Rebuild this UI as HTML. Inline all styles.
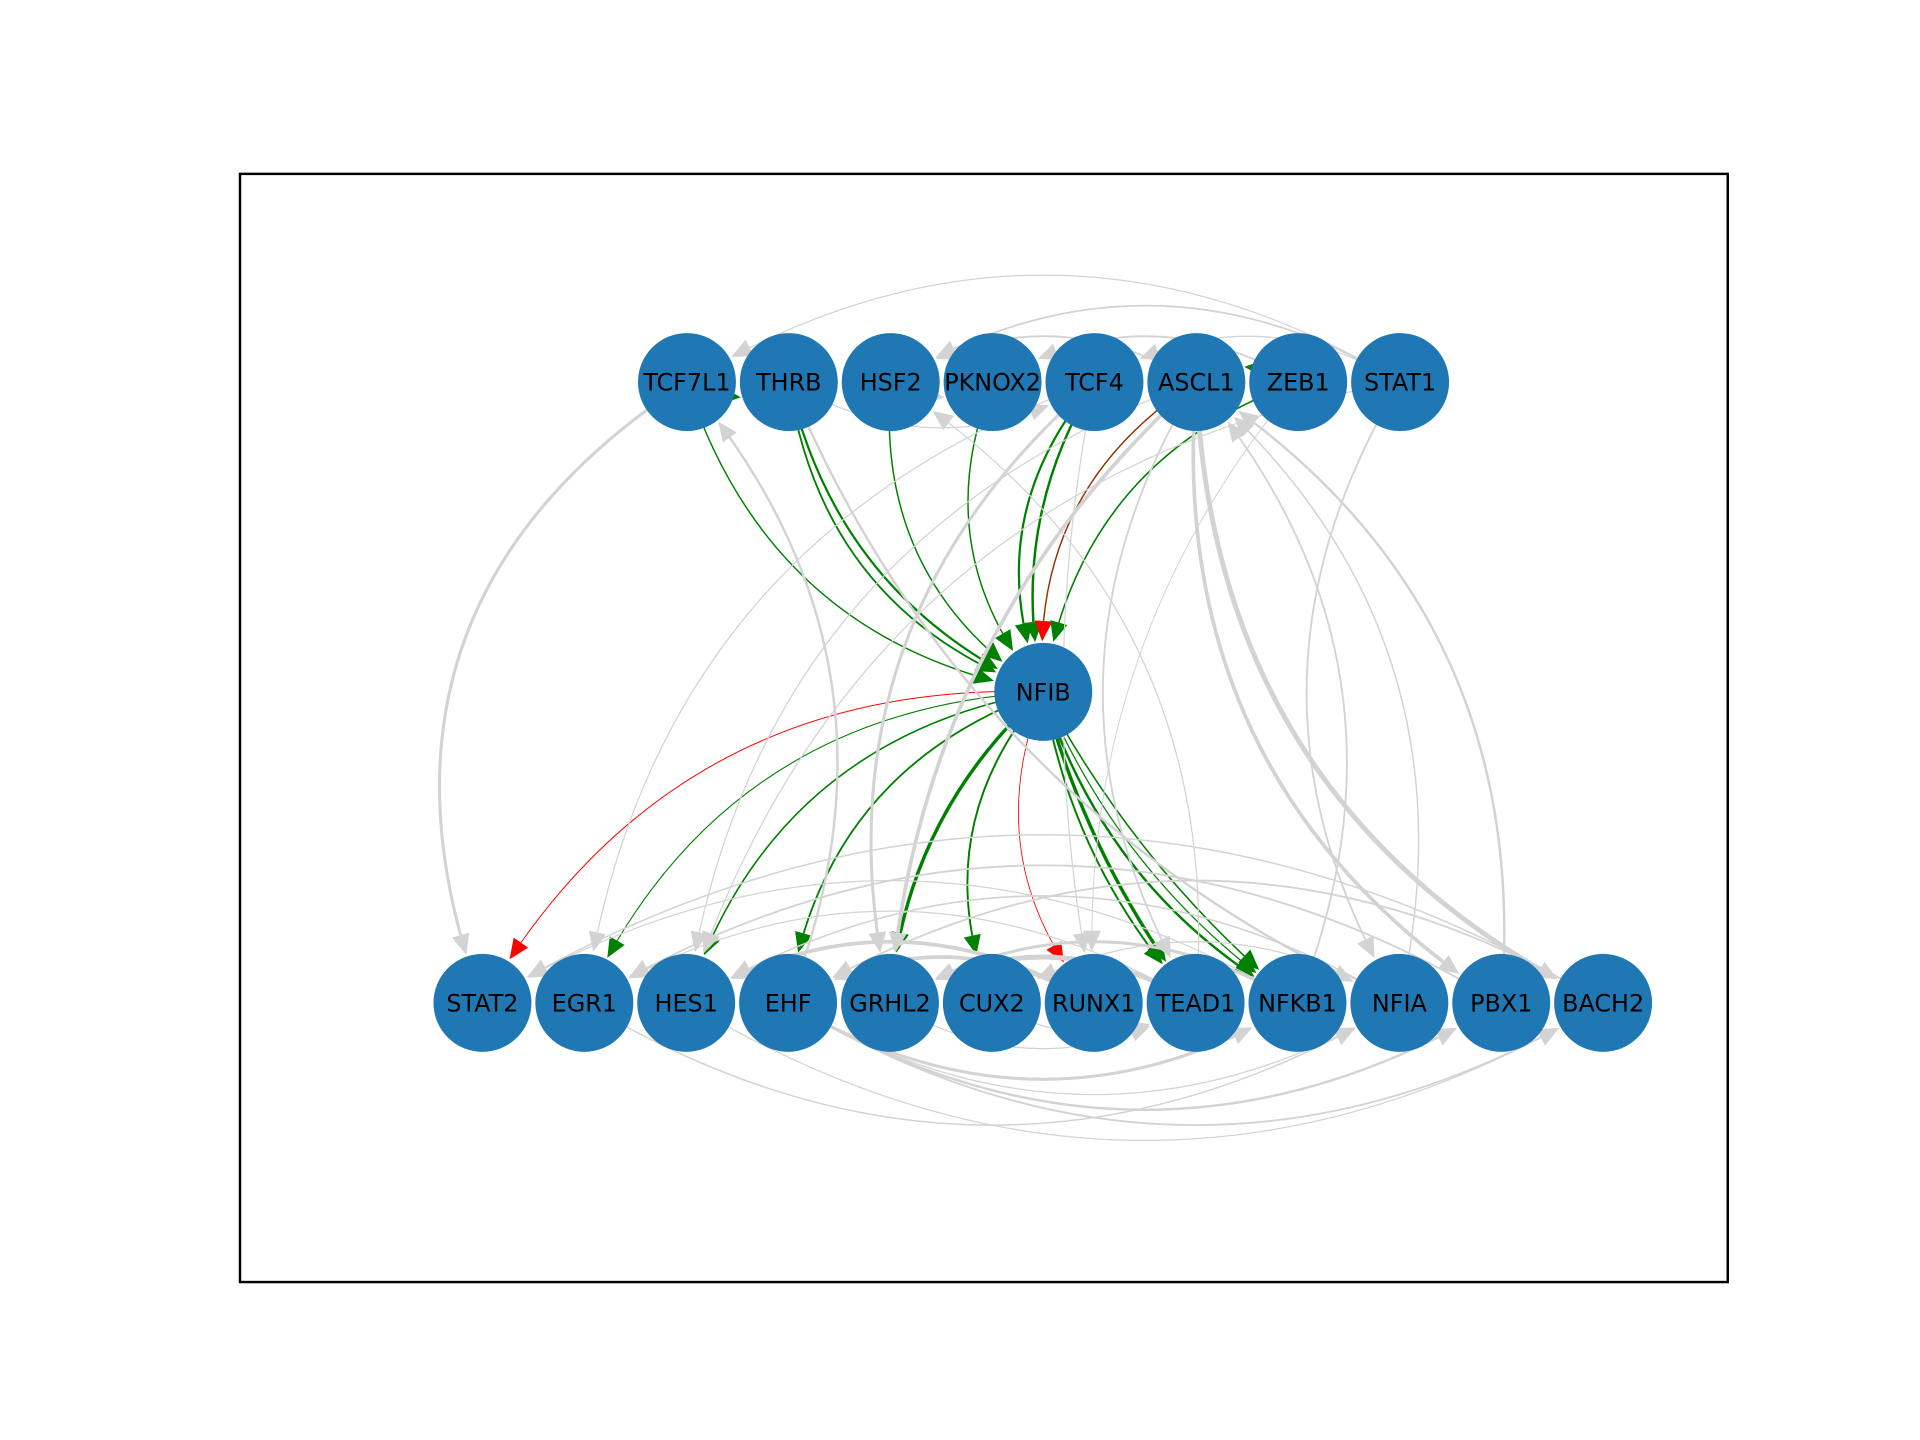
<!DOCTYPE html>
<html><head><meta charset="utf-8"><style>
html,body{margin:0;padding:0;background:#fff;}
svg{display:block;}
text{font-family:"DejaVu Sans","Liberation Sans",sans-serif;}
</style></head><body>
<svg id="chart" width="1920" height="1440" viewBox="0 0 1920 1440" xmlns="http://www.w3.org/2000/svg">
<g id="root" transform="scale(1.2245)">
<rect x="196" y="142" width="1215" height="905" fill="none" stroke="#000" stroke-width="2"/>
<g id="edges"></g><g id="nodes"></g>
</g>
</svg>
<script>
const topNodes=["TCF7L1","THRB","HSF2","PKNOX2","TCF4","ASCL1","ZEB1","STAT1"];
const botNodes=["STAT2","EGR1","HES1","EHF","GRHL2","CUX2","RUNX1","TEAD1","NFKB1","NFIA","PBX1","BACH2"];
const hubNode="NFIB";
const edgeSrc=["TCF7L1","THRB","THRB","HSF2","PKNOX2","TCF4","TCF4","ASCL1","ASCL1","ZEB1","NFIB","NFIB","NFIB","NFIB","NFIB","NFIB","NFIB","NFIB","NFIB","NFIB","NFIB","NFIB",
"TCF7L1","STAT1","ASCL1","STAT1","ZEB1","STAT1","THRB","EHF","NFIA","ASCL1","NFKB1","PBX1","TEAD1","ASCL1","TCF4","STAT1","THRB","ASCL1","ASCL1","TCF4","STAT1","HSF2","RUNX1","RUNX1","TEAD1","NFKB1","NFIA","PBX1","BACH2","NFIA","BACH2","EGR1","EHF","EHF","EHF","GRHL2","CUX2","HES1","EHF","TCF4","ZEB1","TCF7L1","ASCL1","ZEB1","NFKB1","TEAD1"];
const edgeTgt=["NFIB","NFIB","NFIB","NFIB","NFIB","NFIB","NFIB","NFIB","NFIB","NFIB","STAT2","EGR1","HES1","EHF","GRHL2","CUX2","RUNX1","TEAD1","NFKB1","NFKB1","NFKB1","TEAD1",
"STAT2","TCF7L1","HSF2","HSF2","PKNOX2","TCF4","TCF4","TCF7L1","ASCL1","BACH2","ASCL1","ASCL1","HSF2","GRHL2","GRHL2","NFIA","NFIA","TEAD1","HES1","RUNX1","HES1","PKNOX2","HES1","EHF","GRHL2","GRHL2","HES1","EGR1","STAT2","CUX2","EHF","NFIA","PBX1","BACH2","NFKB1","TEAD1","TEAD1","BACH2","NFIA","EGR1","RUNX1","THRB","PBX1","ASCL1","STAT2","EGR1"];
const edgeCol=["g","g","g","g","g","g","g","g","r","g","r","g","g","g","g","g","r","g","g","g","g","g",
"k","k","k","k","k","k","k","k","k","k","k","k","k","k","k","k","k","k","k","k","k","k","k","k","k","k","k","k","k","k","k","k","k","k","k","k","k","k","k","k","k","g","k","g","k","k"];
const edgeW=[1.2,1.5,1.8,1.2,1.2,1.8,2,1.2,0.7,1.3,0.8,0.9,1.3,1.5,2.8,1.6,0.7,2.8,1.3,1,2,1.6,
2.5,1,1.5,1.5,1.5,1,1,2,1.2,4,1.5,2,1,3,2.5,1.5,2,1.5,1,1,1,1,3,3,4,2.5,1.3,1.5,1.2,1,1.5,1.2,2,1.5,2.5,1,1,1,1,1,0.8,1.5,3,1.3,1,1];
const edgeRad=[0.3,0.3,0.25,0.3,0.3,0.3,0.2,0.3,0.3,0.3,0.3,0.3,0.3,0.3,0.2,0.3,0.3,0.1,0.1,0.15,0.2,0.15,
0.4,0.3,0.3,0.3,0.3,0.3,0.3,0.3,0.3,0.3,0.3,0.3,0.3,0.2,0.3,0.3,0.2,0.3,0.3,0.1,0.3,0.3,0.3,0.3,0.3,0.3,0.3,0.3,0.3,0.3,0.3,0.3,0.3,0.3,0.3,0.3,0.3,0.3,0.3,0.3,0.2,0.3,0.3,0.3,0.3,0.3];
const colors={g:"green",r:"red",k:"lightgray"};
const R=40, step=83.2;
const pos={};
topNodes.forEach((n,i)=>pos[n]=[561+i*step,312]);
botNodes.forEach((n,i)=>pos[n]=[394+i*step,819]);
pos[hubNode]=[852,565];
const NS="http://www.w3.org/2000/svg";
const eg=document.getElementById("edges"), ng=document.getElementById("nodes");
function bez(p0,c,p1,t){const u=1-t;return [u*u*p0[0]+2*u*t*c[0]+t*t*p1[0],u*u*p0[1]+2*u*t*c[1]+t*t*p1[1]];}
edgeSrc.forEach((s,i)=>{
  const p0=pos[s],p1=pos[edgeTgt[i]];
  const dx=p1[0]-p0[0],dy=p1[1]-p0[1],r=edgeRad[i];
  const c=[(p0[0]+p1[0])/2-r*dy,(p0[1]+p1[1])/2+r*dx];
  let t=1;
  for(;t>0;t-=0.002){const q=bez(p0,c,p1,t);if(Math.hypot(q[0]-p1[0],q[1]-p1[1])>=R+1)break;}
  const tip=bez(p0,c,p1,t);
  const AL=16;
  let t2=t;for(;t2>0;t2-=0.002){const q=bez(p0,c,p1,t2);if(Math.hypot(q[0]-tip[0],q[1]-tip[1])>=AL)break;}
  const base=bez(p0,c,p1,t2);
  const col=colors[edgeCol[i]];
  const c2=[p0[0]+(c[0]-p0[0])*t2,p0[1]+(c[1]-p0[1])*t2];
  const path=document.createElementNS(NS,"path");
  path.setAttribute("d",`M${p0[0]},${p0[1]} Q${c2[0]},${c2[1]} ${base[0]},${base[1]}`);
  path.setAttribute("fill","none");path.setAttribute("stroke",col);path.setAttribute("stroke-width",edgeW[i]);
  
  
  eg.appendChild(path);
  const ux=(tip[0]-base[0])/AL,uy=(tip[1]-base[1])/AL,hw=7;
  const a=document.createElementNS(NS,"polygon");
  a.setAttribute("points",`${tip[0]},${tip[1]} ${base[0]-uy*hw},${base[1]+ux*hw} ${base[0]+uy*hw},${base[1]-ux*hw}`);
  a.setAttribute("fill",col);
  
  
  eg.appendChild(a);
});
Object.keys(pos).forEach(n=>{
  const g=document.createElementNS(NS,"g");
  
  
  const ci=document.createElementNS(NS,"circle");
  ci.setAttribute("cx",pos[n][0]);ci.setAttribute("cy",pos[n][1]);ci.setAttribute("r",R);ci.setAttribute("fill","#1f77b4");
  const tx=document.createElementNS(NS,"text");
  tx.setAttribute("x",pos[n][0]);tx.setAttribute("y",pos[n][1]+7);tx.setAttribute("text-anchor","middle");
  tx.setAttribute("font-size","19.5");tx.textContent=n;
  
  
  g.appendChild(ci);g.appendChild(tx);ng.appendChild(g);
});
</script>
</body></html>
